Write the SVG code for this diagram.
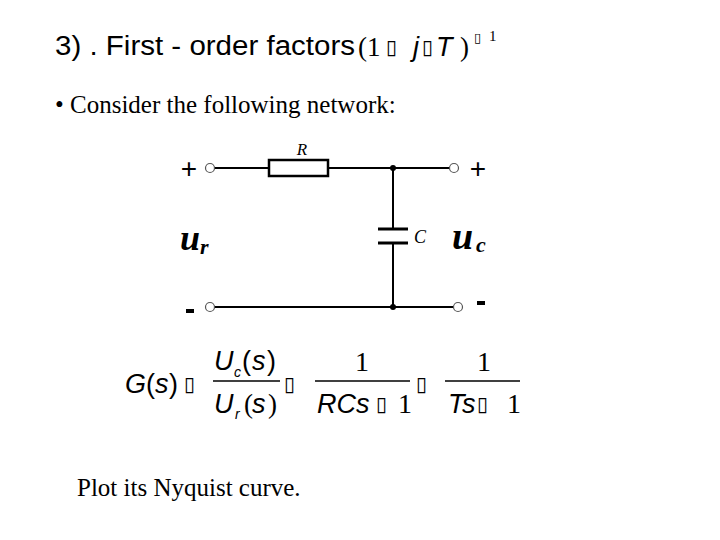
<svg xmlns="http://www.w3.org/2000/svg" width="720" height="540" viewBox="0 0 720 540">
<style>
.s{font-family:"Liberation Sans",Arial,sans-serif;fill:#000}
.t{font-family:"Liberation Serif","Times New Roman",serif;fill:#000}
.b{font-family:"DejaVu Sans",sans-serif;fill:#000;font-size:20px}
.w{stroke:#000;stroke-width:2;fill:none}
.term{stroke:#555;stroke-width:1.2;fill:#fff}
</style>
<rect width="720" height="540" fill="#fff"/>
<g id="title">
<text class="s" x="55" y="55" font-size="27" textLength="300" lengthAdjust="spacingAndGlyphs">3) .  First - order factors</text>
<text class="t" x="358" y="56" font-size="27">(1</text>
<text class="b" x="386" y="54">▯</text>
<text class="s" x="413" y="56" font-size="27" font-style="italic">j</text>
<text class="b" x="422" y="54">▯</text>
<text class="s" x="436" y="56" font-size="27" font-style="italic">T</text>
<text class="t" x="460" y="56" font-size="27">)</text>
<text class="b" x="474" y="42" style="font-size:13px">▯</text>
<text class="t" x="489" y="41" font-size="15">1</text>
</g>
<text class="t" x="55" y="113" font-size="25">• Consider the following network:</text>
<g id="connectors">
<line class="w" x1="215" y1="168" x2="269" y2="168"/>
<line class="w" x1="328" y1="168" x2="450" y2="168"/>
<line class="w" x1="393" y1="168" x2="393" y2="229"/>
<line class="w" x1="393" y1="243" x2="393" y2="307"/>
<line class="w" x1="215" y1="307" x2="453" y2="307"/>
<circle cx="393" cy="168" r="3"/>
<circle cx="393" cy="307" r="3"/>
</g>
<g id="R"><rect x="269" y="160" width="59" height="16" fill="#fff" stroke="#000" stroke-width="2.5"/>
<text class="t" x="302" y="155" font-size="17" font-style="italic" text-anchor="middle">R</text></g>
<g id="C"><line x1="378" y1="229" x2="408" y2="229" stroke="#000" stroke-width="3"/>
<line x1="378" y1="243" x2="408" y2="243" stroke="#000" stroke-width="3"/>
<text class="t" x="414" y="243" font-size="18" font-style="italic">C</text></g>
<g id="terminals">
<circle class="term" cx="210" cy="168" r="4.5"/>
<circle class="term" cx="454" cy="168" r="4.5"/>
<circle class="term" cx="210" cy="307" r="4.5"/>
<circle class="term" cx="458" cy="307" r="4.5"/>
<text class="s" x="189" y="178" font-size="28" text-anchor="middle">+</text>
<text class="s" x="478" y="178" font-size="28" text-anchor="middle">+</text>
<rect x="186" y="309" width="8" height="4"/>
<rect x="477" y="301" width="8" height="4"/>
<text class="t" x="180" y="250" font-size="36" font-style="italic" font-weight="bold">u</text>
<text class="t" x="200" y="254" font-size="22" font-style="italic" font-weight="bold">r</text>
<text class="t" x="452" y="249" font-size="38" font-style="italic" font-weight="bold">u</text>
<text class="t" x="476" y="252" font-size="22" font-style="italic" font-weight="bold">c</text>
</g>
<g id="formula">
<text class="s" x="125" y="393" font-size="27" font-style="italic">G</text>
<text class="s" x="146" y="393" font-size="27">(</text>
<text class="s" x="155" y="393" font-size="27" font-style="italic">s</text>
<text class="s" x="169" y="393" font-size="27">)</text>
<text class="b" x="184" y="391">▯</text>
<line x1="213" y1="381" x2="280" y2="381" stroke="#000" stroke-width="1.3"/>
<text class="s" x="214" y="370" font-size="27" font-style="italic">U</text>
<text class="s" x="234" y="377" font-size="14" font-style="italic">c</text>
<text class="s" x="242" y="370" font-size="27">(</text>
<text class="s" x="252" y="370" font-size="27" font-style="italic">s</text>
<text class="s" x="267" y="370" font-size="27">)</text>
<text class="s" x="214" y="413" font-size="27" font-style="italic">U</text>
<text class="s" x="235" y="419" font-size="14" font-style="italic">r</text>
<text class="t" x="244" y="413" font-size="27">(</text>
<text class="s" x="252" y="413" font-size="27" font-style="italic">s</text>
<text class="t" x="268" y="413" font-size="27">)</text>
<text class="b" x="284" y="391">▯</text>
<line x1="315" y1="381" x2="410" y2="381" stroke="#000" stroke-width="1.3"/>
<text class="t" x="362" y="371" font-size="28" text-anchor="middle">1</text>
<text class="s" x="317" y="413" font-size="27" font-style="italic">RCs</text>
<text class="b" x="376" y="411">▯</text>
<text class="t" x="398" y="413" font-size="28">1</text>
<text class="b" x="416" y="391">▯</text>
<line x1="445" y1="381" x2="520" y2="381" stroke="#000" stroke-width="1.3"/>
<text class="t" x="484" y="371" font-size="28" text-anchor="middle">1</text>
<text class="s" x="448" y="413" font-size="27" font-style="italic">Ts</text>
<text class="b" x="477" y="411">▯</text>
<text class="t" x="507" y="413" font-size="28">1</text>
</g>
<text class="t" x="77" y="496" font-size="25">Plot its Nyquist curve.</text>
</svg>
